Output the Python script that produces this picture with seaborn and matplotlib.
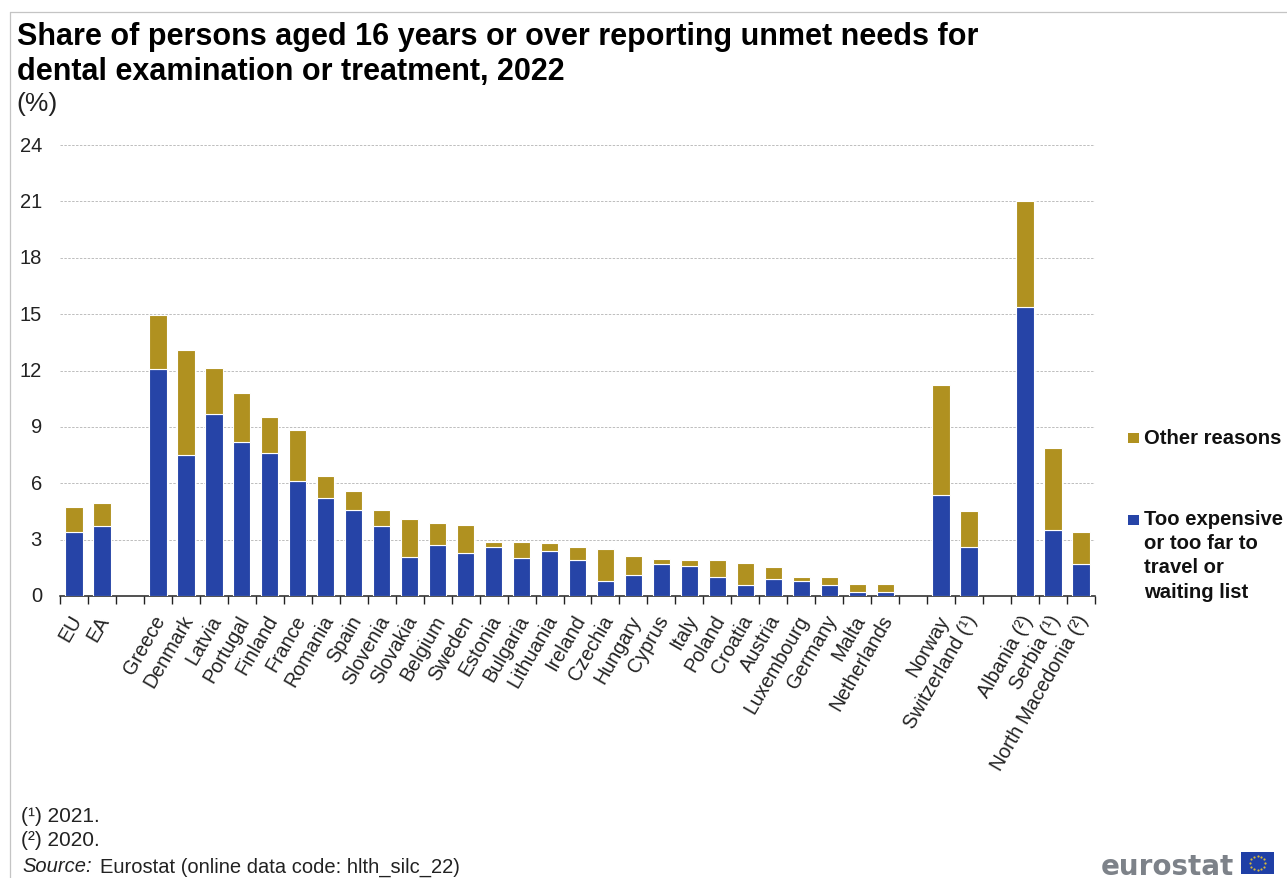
import numpy as np
import pandas as pd
import seaborn as sns
import matplotlib
matplotlib.use("Agg")
import matplotlib.pyplot as plt
from matplotlib.patches import Rectangle
from matplotlib.lines import Line2D
from matplotlib.transforms import ScaledTranslation

categories = ["EU", "EA", " ", "Greece", "Denmark", "Latvia", "Portugal", "Finland", "France",
              "Romania", "Spain", "Slovenia", "Slovakia", "Belgium", "Sweden", "Estonia",
              "Bulgaria", "Lithuania", "Ireland", "Czechia", "Hungary", "Cyprus", "Italy",
              "Poland", "Croatia", "Austria", "Luxembourg", "Germany", "Malta", "Netherlands",
              "  ", "Norway", "Switzerland (¹)", "   ", "Albania (²)", "Serbia (¹)",
              "North Macedonia (²)"]
expensive = [3.4, 3.7, None, 12.1, 7.5, 9.7, 8.2, 7.6, 6.1, 5.2, 4.6, 3.7, 2.1, 2.7, 2.3, 2.6,
             2.0, 2.4, 1.9, 0.8, 1.1, 1.7, 1.6, 1.0, 0.6, 0.9, 0.8, 0.6, 0.2, 0.2,
             None, 5.4, 2.6, None, 15.4, 3.5, 1.7]
other = [1.35, 1.25, None, 2.85, 5.6, 2.45, 2.6, 1.9, 2.75, 1.2, 1.0, 0.85, 2.0, 1.2, 1.5, 0.25,
         0.85, 0.4, 0.7, 1.7, 1.05, 0.25, 0.3, 0.9, 1.15, 0.65, 0.2, 0.4, 0.45, 0.45,
         None, 5.85, 1.9, None, 5.6, 4.4, 1.7]
yticks = [0, 3, 6, 9, 12, 15, 18, 21, 24]

BLUE = "#2644A7"
GOLD = "#B09120"
W, H = 1287, 879

sns.set_theme(style="white")
plt.rcParams["font.family"] = ["Liberation Sans", "DejaVu Sans"]

df = pd.DataFrame({"country": categories,
                   "expensive": pd.to_numeric(pd.Series(expensive)),
                   "other": pd.to_numeric(pd.Series(other))})

fig = plt.figure(figsize=(W / 100, H / 100), dpi=100)
ax = fig.add_axes([60 / W, 1 - 597 / H, (1095 - 60) / W, (597 - 146) / H])

sns.barplot(data=df, x="country", y="expensive", order=categories, color=BLUE, saturation=1,
            width=0.62, errorbar=None, edgecolor="white", linewidth=0.8, ax=ax, zorder=3)
sns.barplot(data=df, x="country", y="other", order=categories, color=GOLD, saturation=1,
            width=0.62, errorbar=None, edgecolor="white", linewidth=0.8, ax=ax, zorder=3,
            bottom=df["expensive"].dropna().values)

ax.set_xlim(-0.5, len(categories) - 0.5)
ax.set_ylim(0, 24)
ax.set_xlabel("")
ax.set_ylabel("")
ax.set_yticks(yticks)
ax.tick_params(axis="y", length=0, pad=13, labelsize=14.5, labelcolor="#222222")
ax.grid(axis="y", color="#bdbdbd", linestyle=(0, (2.5, 1.5)), linewidth=0.7)
ax.set_axisbelow(True)
for s in ["top", "right", "left"]:
    ax.spines[s].set_visible(False)
ax.spines["bottom"].set_color("#222222")
ax.spines["bottom"].set_linewidth(1.1)

ax.set_xticks(range(len(categories)))
ax.set_xticklabels(categories, rotation=60, ha="right", rotation_mode="anchor",
                   fontsize=14.2, color="#222222")
ax.tick_params(axis="x", which="major", length=0, pad=11)
ax.set_xticks(np.arange(-0.5, len(categories)), minor=True)
ax.tick_params(axis="x", which="minor", length=6, width=1, color="#222222", bottom=True)

# nudge tick labels to the reference position
xoff = ScaledTranslation(-5 / 100, 0, fig.dpi_scale_trans)
for lab in ax.get_xticklabels():
    lab.set_transform(lab.get_transform() + xoff)
yoff = ScaledTranslation(0, 2 / 100, fig.dpi_scale_trans)
for lab in ax.get_yticklabels():
    lab.set_transform(lab.get_transform() + yoff)

# frame
fig.add_artist(Line2D([10 / W, 10 / W], [0, 1 - 12.5 / H], color="#c4c4c4", lw=0.9))
fig.add_artist(Line2D([10 / W, 1], [1 - 12.5 / H, 1 - 12.5 / H], color="#c4c4c4", lw=0.9))

# titles
fig.text(17 / W, 1 - 54.5 / H, "Share of persons aged 16 years or over reporting unmet needs for\n"
         "dental examination or treatment, 2022", fontsize=22, fontweight="bold",
         color="black", va="center", ha="left", linespacing=1.21)
fig.text(16 / W, 1 - 104 / H, "(%)", fontsize=19, color="#222222", va="center")

# legend
LEG_X = 1128
for y_px, colour in [(434, GOLD), (516, BLUE)]:
    fig.add_artist(Rectangle((LEG_X / W, 1 - (y_px + 10) / H), 10.5 / W, 10.5 / H,
                             transform=fig.transFigure, color=colour, lw=0))
fig.text(1144 / W, 1 - 439 / H, "Other reasons", fontsize=14.6, fontweight="bold",
         color="#111111", va="center", ha="left")
fig.text(1144 / W, 1 - 510 / H, "Too expensive\nor too far to\ntravel or\nwaiting list",
         fontsize=14.6, fontweight="bold", color="#111111", va="top", ha="left",
         linespacing=1.35)

# footnotes
fig.text(21 / W, 1 - 817 / H, "(¹) 2021.", fontsize=15, color="#222222", va="center")
fig.text(21 / W, 1 - 841 / H, "(²) 2020.", fontsize=15, color="#222222", va="center")
fig.text(22 / W, 1 - 867 / H, "Source:", fontsize=14.5, style="italic", color="#222222", va="center")
fig.text(100 / W, 1 - 867 / H, "Eurostat (online data code: hlth_silc_22)", fontsize=14.5,
         color="#222222", va="center")

# logo
fig.text(1101 / W, 1 - 875 / H, "eurostat", fontsize=20, fontweight="bold", color="#7d8289",
         family="DejaVu Sans", va="baseline", ha="left")
flag = fig.add_axes([1241 / W, 1 - 875 / H, 33 / W, 22 / H])
flag.set_facecolor("#1f3fa6")
flag.set_xlim(-1.5, 1.5)
flag.set_ylim(-1, 1)
flag.set_xticks([])
flag.set_yticks([])
for s in flag.spines.values():
    s.set_visible(False)
ang = np.deg2rad(np.arange(0, 360, 30))
flag.scatter(0.67 * np.cos(ang), 0.67 * np.sin(ang), s=2.5, color="#d8b93a", linewidths=0)

fig.savefig("out.png", dpi=100)
